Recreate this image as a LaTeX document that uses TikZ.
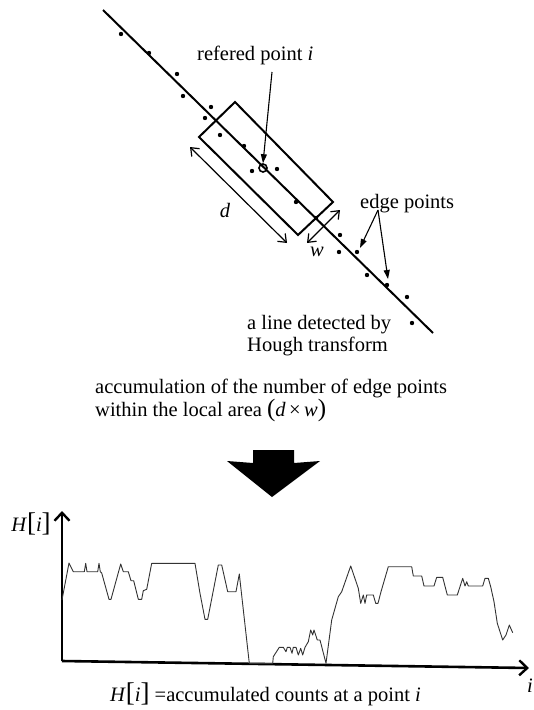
\documentclass[tikz,border=0pt]{standalone}
\usepackage{fontspec}
\setmainfont{Liberation Serif}
\usetikzlibrary{arrows.meta}
\tikzset{
  txt/.style={inner sep=0pt, font=\fontsize{20.5}{23}\selectfont},
  dot/.style={fill=black, draw=none},
  pointer/.style={line width=1.1pt, -{Triangle[length=9pt,width=6pt]}},
  dimarrow/.style={line width=1.2pt, {Straight Barb[length=7pt,width=11pt]}-{Straight Barb[length=7pt,width=11pt]}},
  axis/.style={line width=2.6pt, -{Straight Barb[length=8pt,width=15pt,line width=2.4pt]}},
  curve/.style={line width=0.9pt, draw=black!80, line join=round},
}
\begin{document}
\begin{tikzpicture}[x=1pt,y=-1pt]
\useasboundingbox (0,0) rectangle (534,710);
\fill[white] (0,0) rectangle (534,710);

% detected line
\coordinate (lineS) at (103,10);
\coordinate (lineE) at (433,333);
\draw[line width=2pt] (lineS) -- (lineE);

% local area rectangle
\draw[line width=2pt] (235,102) -- (333,202) -- (298,235) -- (199,137) -- cycle;

% edge points
\foreach \p in {(121,34),(149,53),(177,74),(183,96),(211,107),(205,118),(220,135),(244,146),(252,171),(277,169),(296,202),(316,218),(340,235),(339,252),(357,252),(367,275),(387,285),(407,297),(412,323)}
  \fill[dot] \p circle (2.2pt);

% referred point
\node[circle, draw, line width=1.6pt, minimum size=8pt, inner sep=0pt] (ref) at (263,168) {};
\node[txt, anchor=base west] (reflabel) at (197,60) {refered point \textit{i}};
\coordinate (refstart) at (272,72);
\draw[pointer] (refstart) -- (ref.north);

% d dimension
\coordinate (dA) at (190,147);
\coordinate (dB) at (287,243);
\draw[dimarrow] (dA) -- (dB);
\node[txt] (dlab) at (225,210) {\textit{d}};

% w dimension
\coordinate (wA) at (340,210);
\coordinate (wB) at (307,243);
\draw[dimarrow] (wA) -- (wB);
\node[txt] (wlab) at (317,252) {\textit{w}};

% edge points label
\node[txt, anchor=base west] (edgelab) at (360,208) {edge points};
\coordinate (eSrc) at (378,210);
\coordinate (e1) at (360,248);
\coordinate (e2) at (388,279);
\draw[pointer] (eSrc) -- (e1);
\draw[pointer] (eSrc) -- (e2);

% line label
\node[txt, anchor=base west] (lineA) at (247,329) {a line detected by};
\node[txt, anchor=base west] (lineB) at (247,351) {Hough transform};

% accumulation text
\node[txt, anchor=base west] (accA) at (95,393) {accumulation of the number of edge points};
\node[txt, anchor=base west] (accB) at (95,416) {within the local area {\fontsize{25}{25}\selectfont(}\textit{d}\,×\,\textit{w}{\fontsize{25}{25}\selectfont)}};

% big arrow
\fill[black] (253,450) -- (294,450) -- (294,463) -- (320,461) -- (272,497) -- (227,461) -- (253,463) -- cycle;

% axes
\coordinate (O) at (62,661);
\coordinate (Ytop) at (62,511);
\coordinate (Xend) at (529,668);
\draw[axis] (O) -- (Ytop);
\draw[axis] (O) -- (Xend);
\node[txt] (ylab) at (31,524) {\textit{H}{\fontsize{27}{27}\selectfont[}\textit{i}{\fontsize{27}{27}\selectfont]}};
\node[txt] (xlab) at (530,686) {\textit{i}};
\node[txt, anchor=base west] (caption) at (110,701) {\textit{H}{\fontsize{27}{27}\selectfont[}\textit{i}{\fontsize{27}{27}\selectfont]} =accumulated counts at a point \textit{i}};

% histogram curve
\draw[curve] (62,600) -- (63.3,593) -- (69,563) -- (73.3,571.7) -- (84.3,571.7) -- (85.7,563.3) -- (87,571.7) -- (97.7,571.7) -- (99,563.3) -- (100.3,571.7) -- (101.7,573) -- (109,599.3) -- (111,599.3) -- (120.7,564) -- (123.3,571.7) -- (128.3,571.7) -- (131,580.7) -- (133.7,580.7) -- (138.3,599.3) -- (141.7,599.3) -- (143.3,590.7) -- (146.7,589.3) -- (151.7,563.3) -- (195,563.3) -- (200,593.3) -- (205,619.3) -- (207.7,619.3) -- (218.3,565) -- (221.7,565) -- (227.7,591.7) -- (236,591.7) -- (239.3,574) -- (249.3,663.3) -- (272.7,663.3) -- (273.3,656.7) -- (279.3,647.3) -- (283.3,647.3) -- (286,651.7) -- (287.3,647.3) -- (290,647.3) -- (292,653.3) -- (293.3,647.3) -- (296,647.3) -- (298.3,655) -- (300.7,648.3) -- (302.7,655) -- (305,647.3) -- (308.3,641.7) -- (310.7,630) -- (312.7,635) -- (314,630) -- (317.3,640) -- (320,640) -- (326,663.3) -- (331.7,620) -- (338.3,596.7) -- (341.7,591.7) -- (350.7,566) -- (358.3,588.3) -- (360.7,603.3) -- (363.3,595) -- (365,603.3) -- (366.7,595) -- (373.3,595) -- (375.7,603.3) -- (378,603.3) -- (381,591.7) -- (388.3,566.7) -- (411.7,566.7) -- (413.3,576) -- (421.7,576) -- (424,586) -- (434,586) -- (436.7,577.3) -- (442.7,577.3) -- (447.3,595) -- (457.3,595) -- (462.7,578.3) -- (465,586) -- (466.7,581.7) -- (468.3,586) -- (482.7,586) -- (485,578.3) -- (488.3,578.3) -- (490.7,586.7) -- (494,601.7) -- (497.3,623.3) -- (500,631.7) -- (502.7,640) -- (506,635) -- (509.3,625) -- (512.7,632.7);
\end{tikzpicture}
\end{document}
